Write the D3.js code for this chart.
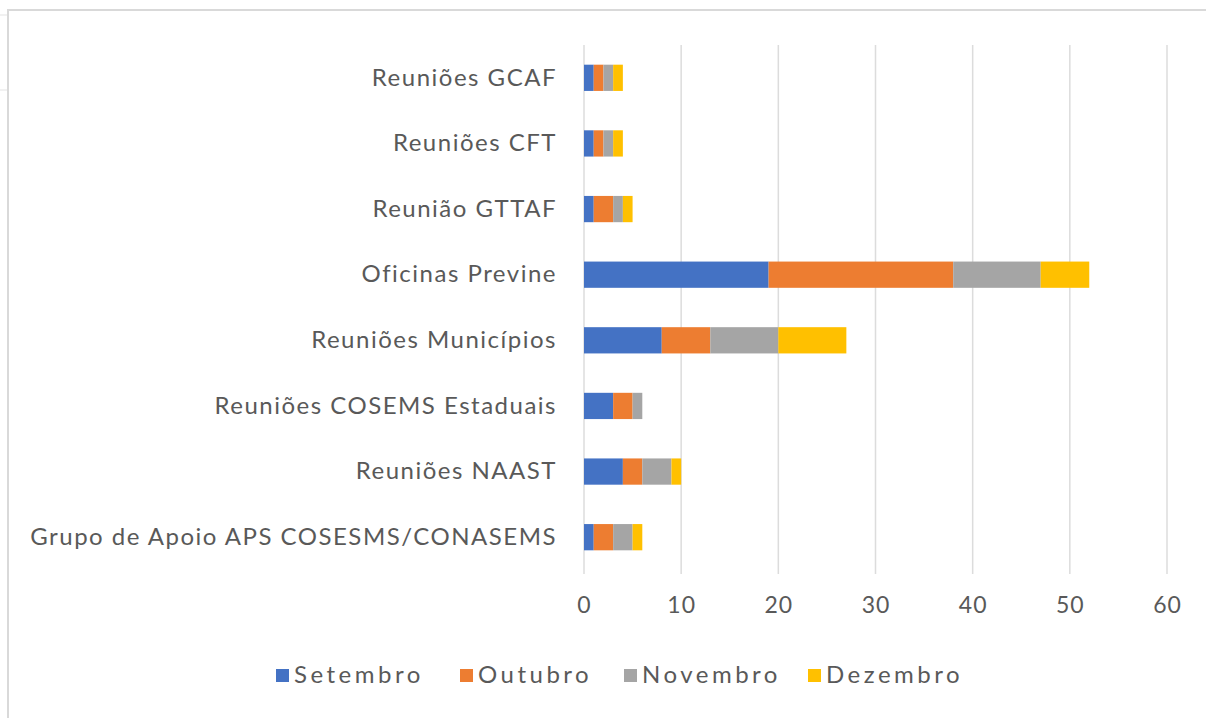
<!DOCTYPE html>
<html>
<head>
<meta charset="utf-8">
<script src="https://cdn.jsdelivr.net/npm/d3@7"></script>
<style>
  body { margin: 0; background: #fff; }
  svg text { font-family: Lato, "Open Sans", sans-serif; fill: #595959; }
</style>
</head>
<body>
<div id="chart"></div>
<script>
const W = 1206, H = 718;

// categorias (de cima para baixo)
const categories = [
    "Reuniões GCAF",
    "Reuniões CFT",
    "Reunião GTTAF",
    "Oficinas Previne",
    "Reuniões Municípios",
    "Reuniões COSEMS Estaduais",
    "Reuniões NAAST",
    "Grupo de Apoio APS COSESMS/CONASEMS"
];
const months = ["Setembro", "Outubro", "Novembro", "Dezembro"];
const setembro = [1, 1, 1, 19, 8, 3, 4, 1];
const outubro  = [1, 1, 2, 19, 5, 2, 2, 2];
const novembro = [1, 1, 1, 9, 7, 1, 3, 2];
const dezembro = [1, 1, 1, 5, 7, 0, 1, 1];
const xTicks = [0, 10, 20, 30, 40, 50, 60];
const colors = ["#4472c4", "#ed7d31", "#a5a5a5", "#ffc000"];

const rows = categories.map((c, i) => ({
    cat: c,
    Setembro: setembro[i],
    Outubro: outubro[i],
    Novembro: novembro[i],
    Dezembro: dezembro[i]
}));
const stacked = d3.stack().keys(months)(rows);

const M = { left: 584, right: 1167, top: 45, bottom: 570 };

const x = d3.scaleLinear().domain([0, 60]).range([M.left, M.right]);
const y = d3.scaleBand().domain(categories).range([M.top, M.bottom]).paddingInner(0.6).paddingOuter(0.3);
const color = d3.scaleOrdinal().domain(months).range(colors);

const svg = d3.select("#chart").append("svg")
    .attr("width", W)
    .attr("height", H);

// moldura da planilha
svg.append("path")
    .attr("d", `M8,${H} L8,10 L${W},10`)
    .attr("fill", "none")
    .attr("stroke", "#d9d9d9")
    .attr("stroke-width", 2);
svg.append("line").attr("x1", 0).attr("x2", 7).attr("y1", 15).attr("y2", 15)
    .attr("stroke", "#e3e3e3");
svg.append("line").attr("x1", 0).attr("x2", 7).attr("y1", 90).attr("y2", 90)
    .attr("stroke", "#e3e3e3");

// grade vertical
svg.append("g")
    .selectAll("line")
    .data(xTicks)
    .enter()
    .append("line")
    .attr("x1", d => x(d))
    .attr("x2", d => x(d))
    .attr("y1", M.top)
    .attr("y2", M.bottom + 4)
    .attr("stroke", "#dcdcdc")
    .attr("stroke-width", 1.5);

// barras empilhadas
svg.append("g")
    .selectAll("g")
    .data(stacked)
    .enter()
    .append("g")
    .attr("fill", d => color(d.key))
    .selectAll("rect")
    .data(d => d)
    .enter()
    .append("rect")
    .attr("x", d => x(d[0]))
    .attr("y", d => y(d.data.cat))
    .attr("width", d => x(d[1]) - x(d[0]))
    .attr("height", y.bandwidth());

// eixo x
const xAxis = svg.append("g")
    .attr("transform", `translate(0,${M.bottom})`)
    .call(d3.axisBottom(x).tickValues(xTicks).tickSize(0).tickPadding(27));
xAxis.select(".domain").remove();
xAxis.selectAll("text")
    .style("font-size", "23px")
    .style("letter-spacing", "1px")
    .attr("fill", "#595959");

// eixo y
const yAxis = svg.append("g")
    .attr("transform", `translate(${M.left},0)`)
    .call(d3.axisLeft(y).tickSize(0).tickPadding(27));
yAxis.select(".domain").remove();
yAxis.selectAll("text")
    .style("font-size", "24px")
    .style("letter-spacing", "1.5px")
    .attr("fill", "#595959");

// legenda
const legendX = [276, 460, 624, 808];
const legend = svg.append("g")
    .selectAll("g")
    .data(months)
    .enter()
    .append("g")
    .attr("transform", (d, i) => `translate(${legendX[i]},675)`);
legend.append("rect")
    .attr("x", 0)
    .attr("y", -6)
    .attr("width", 13)
    .attr("height", 13)
    .attr("fill", d => color(d));
legend.append("text")
    .attr("x", 18)
    .attr("dy", "0.35em")
    .style("font-size", "24px")
    .style("letter-spacing", "3.5px")
    .text(d => d);
</script>
</body>
</html>
